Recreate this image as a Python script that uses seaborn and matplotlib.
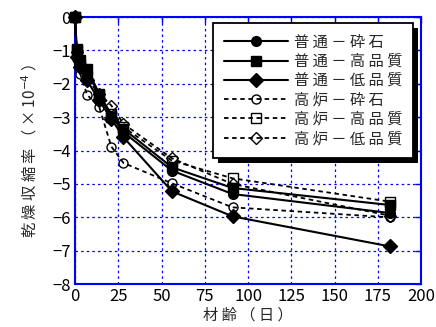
import matplotlib
matplotlib.use("Agg")
import matplotlib.pyplot as plt
from matplotlib.patches import Rectangle
from matplotlib.transforms import IdentityTransform
import seaborn as sns
import pandas as pd

# Drying shrinkage by age (days), x10^-4
ages = [0, 1, 3, 7, 14, 21, 28, 56, 91, 182]
series_names = ["普通－砕石", "普通－高品質", "普通－低品質",
                "高炉－砕石", "高炉－高品質", "高炉－低品質"]
futsu_saiseki = [0, -1.00, -1.35, -1.65, -2.30, -2.95, -3.45, -4.60, -5.30, -5.87]
futsu_kohinshitsu = [0, -0.95, -1.30, -1.55, -2.30, -3.00, -3.35, -4.50, -5.12, -5.63]
futsu_teihinshitsu = [0, -1.20, -1.50, -1.90, -2.50, -3.05, -3.60, -5.22, -5.97, -6.87]
koro_saiseki = [0, -1.25, -1.70, -2.33, -2.70, -3.88, -4.37, -4.98, -5.70, -6.00]
koro_kohinshitsu = [0, -1.00, -1.40, -1.80, -2.35, -2.90, -3.30, -4.30, -4.83, -5.53]
koro_teihinshitsu = [0, -1.05, -1.40, -1.85, -2.30, -2.65, -3.20, -4.23, -5.00, -5.95]
values = [futsu_saiseki, futsu_kohinshitsu, futsu_teihinshitsu,
          koro_saiseki, koro_kohinshitsu, koro_teihinshitsu]

markers = ["o", "s", "D", "o", "s", "D"]
filled = [True, True, True, False, False, False]
msizes = [7, 7.5, 7, 6.5, 6.5, 6.5]

x_ticks = [0, 25, 50, 75, 100, 125, 150, 175, 200]
y_ticks = [0, -1, -2, -3, -4, -5, -6, -7, -8]


def spaced(s):
    # widen the character pitch of Japanese labels
    return " ".join(s)


sns.set_style("white")
plt.rcParams["font.family"] = ["Noto Sans CJK JP", "DejaVu Sans"]

fig = plt.figure(figsize=(4.36, 3.27), dpi=100)
ax = fig.add_axes([0.172, 0.131, 0.794, 0.817])

blue = "#0000ff"
for name, vals, mk, fl, ms in zip(series_names, values, markers, filled, msizes):
    df = pd.DataFrame({"age": ages, "shrink": vals})
    sns.lineplot(data=df, x="age", y="shrink", ax=ax, color="black",
                 marker=mk, markersize=ms,
                 markerfacecolor="black" if fl else "none",
                 markeredgecolor="black", markeredgewidth=1.0,
                 linestyle="-" if fl else (0, (2.5, 2)),
                 linewidth=1.5 if fl else 1.3,
                 label=spaced(name), zorder=3, sort=False, clip_on=False)

ax.set_xlim(0, 200)
ax.set_ylim(-8, 0)
ax.set_xticks(x_ticks)
ax.set_yticks(y_ticks)
ax.set_xticklabels([str(v) for v in x_ticks])
ax.set_yticklabels(["0"] + [f"\u2212{abs(v)}" for v in y_ticks[1:]])
ax.grid(True, color=blue, linestyle=(0, (2, 2.5)), linewidth=0.9)
for sp in ax.spines.values():
    sp.set_color(blue)
    sp.set_linewidth(1.5)
ax.tick_params(direction="in", length=4, width=1, color=blue,
               top=True, right=True, labelsize=12, labelcolor="black", pad=3)

ax.set_xlabel(spaced("材齢（日）"), fontsize=11, labelpad=1)
ax.set_ylabel("乾 燥 収 縮 率 （ × 10$^{-4}$ ）", fontsize=11, labelpad=9)

leg = ax.legend(loc="upper right", bbox_to_anchor=(0.977, 0.978),
                frameon=True, fancybox=False, edgecolor="black",
                framealpha=1, fontsize=11, handlelength=4.2,
                handletextpad=0.4, labelspacing=0.15, borderpad=0.7,
                borderaxespad=0)
leg.get_frame().set_linewidth(1.3)
leg.set_zorder(5)

# solid drop shadow offset to the lower right of the legend box
fig.canvas.draw()
bb = leg.get_frame().get_window_extent()
ax.add_artist(Rectangle((bb.x0 + 5, bb.y0 - 5), bb.width, bb.height,
                        transform=IdentityTransform(), facecolor="black",
                        edgecolor="none", zorder=4.9, clip_on=False))

fig.savefig("out.png", dpi=100)
